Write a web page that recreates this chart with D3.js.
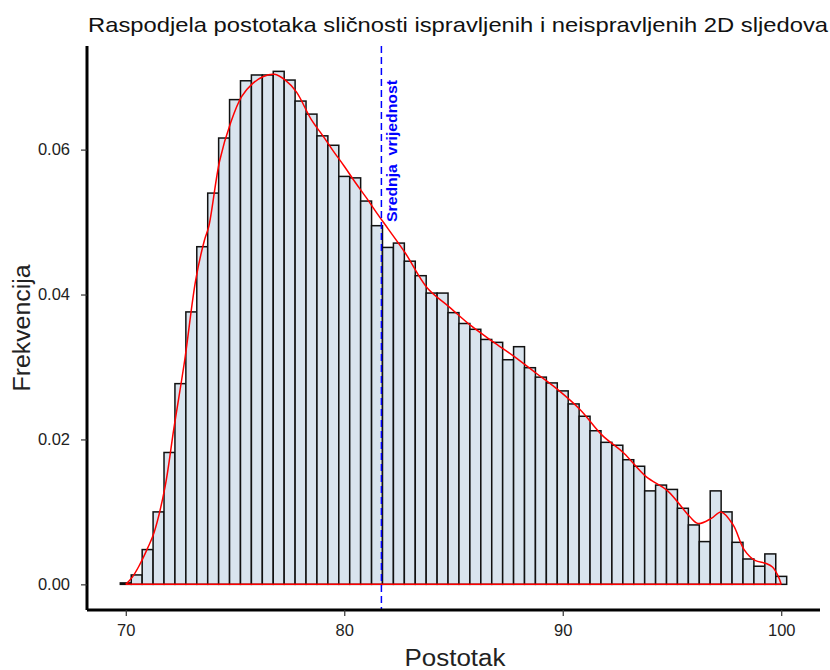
<!DOCTYPE html>
<html>
<head>
<meta charset="utf-8">
<script src="https://cdn.jsdelivr.net/npm/d3@7"></script>
<style>
body{margin:0;background:#fff;}
text{font-family:"Liberation Sans",Arial,sans-serif;}
</style>
</head>
<body>
<script>
// sredine binova (sirina 0.5)
var binMid = [];
for (var b = 0; b <= 60; b++) binMid.push(70 + b*0.5);
// visine stupaca ocitane sa slike
var binFreq = [0.0002,0.0013,0.0048,0.0100,0.0182,0.0277,0.0376,0.0466,0.0540,0.0616,
  0.0669,0.0695,0.0703,0.0703,0.0708,0.0696,0.0667,0.0649,0.0619,0.0606,
  0.0563,0.0561,0.0529,0.0495,0.0465,0.0471,0.0446,0.0426,0.0402,0.0402,
  0.0375,0.0360,0.0352,0.0338,0.0334,0.0310,0.0328,0.0299,0.0286,0.0278,
  0.0267,0.0249,0.0232,0.0212,0.0196,0.0192,0.0172,0.0163,0.0129,0.0137,
  0.0131,0.0105,0.0082,0.0059,0.0129,0.0100,0.0058,0.0035,0.0025,0.0042,0.0011];
// krivulja gustoce (ocitano)
var densX = [70.0,70.3,70.6,71.0,71.3,71.8,72.2,72.7,73.2,73.6,73.8,74.3,74.8,75.3,75.8,76.3,76.8,77.3,77.8,
  78.5,79.0,79.5,80.0,80.5,81.0,81.5,82.0,82.8,83.8,84.8,85.8,86.8,87.8,88.8,89.8,
  90.8,91.8,92.8,93.8,94.8,95.8,96.2,96.8,97.25,97.8,98.3,98.8,99.3,99.6,99.85,100.0];
var densY = [0.0000,0.0010,0.0025,0.0050,0.0072,0.0135,0.0215,0.0310,0.0420,0.0475,0.0494,0.0585,0.0637,0.0673,0.0691,0.0701,0.0704,0.0696,0.0680,
  0.0641,0.0620,0.0598,0.0577,0.0555,0.0534,0.0512,0.0491,0.0457,0.0409,0.0383,0.0357,0.0335,0.0314,0.0291,0.0268,
  0.0241,0.0206,0.0181,0.0149,0.0129,0.0094,0.0084,0.0091,0.0100,0.0082,0.0048,0.0033,0.0029,0.0024,0.0012,0.0000];
var meanVal = 81.7;
var xTicks = [70,80,90,100];
var yTicks = [0,0.02,0.04,0.06];

var W = 830, H = 670;
var margin = {left:87, right:10, top:46, bottom:60};
var svg = d3.select("body").append("svg").attr("width",W).attr("height",H);

var x = d3.scaleLinear().domain([68.225,101.775]).range([margin.left, W-margin.right]);
var y = d3.scaleLinear().domain([-0.00354,0.0743]).range([H-margin.bottom, margin.top]);
var bw = 0.5;

// stupci
svg.append("g").selectAll("rect")
  .data(binFreq)
  .enter().append("rect")
    .attr("x", function(d,i){ return x(binMid[i]-bw/2); })
    .attr("width", function(d,i){ return x(binMid[i]+bw/2) - x(binMid[i]-bw/2); })
    .attr("y", function(d){ return y(d); })
    .attr("height", function(d){ return y(0) - y(d); })
    .attr("fill","#d9e4ee")
    .attr("stroke","#111")
    .attr("stroke-width",1.5);

// gustoca
var pts = densX.map(function(v,i){ return [v, densY[i]]; });
var line = d3.line().x(function(d){ return x(d[0]); }).y(function(d){ return y(d[1]); })
  .curve(d3.curveCatmullRom);
svg.append("path")
  .attr("d", line(pts))
  .attr("fill","none").attr("stroke","#ff0000").attr("stroke-width",1.5);
svg.append("line")
  .attr("x1", x(densX[0])).attr("x2", x(densX[densX.length-1]))
  .attr("y1", y(0)).attr("y2", y(0))
  .attr("stroke","#ff0000").attr("stroke-width",1.5);

// srednja vrijednost
svg.append("line")
  .attr("x1", x(meanVal)).attr("x2", x(meanVal))
  .attr("y1", margin.top).attr("y2", H-margin.bottom)
  .attr("stroke","#0000ff").attr("stroke-width",1.5)
  .attr("stroke-dasharray","7,4");
svg.append("text")
  .attr("transform","translate("+(x(meanVal)+16)+",222) rotate(-90)")
  .attr("fill","#0000ff").attr("font-size","14px").attr("font-weight","bold")
  .attr("textLength",142).attr("lengthAdjust","spacingAndGlyphs")
  .attr("xml:space","preserve")
  .text("Srednja  vrijednost");

// osi
var xAxis = d3.axisBottom(x).tickValues(xTicks).tickSize(6).tickPadding(8);
var yAxis = d3.axisLeft(y).tickValues(yTicks).tickSize(6).tickPadding(11).tickFormat(d3.format(".2f"));

var gx = svg.append("g").attr("transform","translate(0,"+(H-margin.bottom)+")").call(xAxis);
var gy = svg.append("g").attr("transform","translate("+margin.left+",0)").call(yAxis);
[gx,gy].forEach(function(g){
  g.select(".domain").attr("stroke","#000").attr("stroke-width",3);
  g.selectAll(".tick line").attr("stroke","#333").attr("stroke-width",1.2);
  g.selectAll(".tick text").attr("fill","#222").attr("font-size","16.5px")
    .style("font-family","Liberation Sans, Arial, sans-serif");
});
gx.select(".domain").attr("d","M"+margin.left+",0H"+(W-margin.right));
gy.select(".domain").attr("d","M0,"+margin.top+"V"+(H-margin.bottom));

svg.append("text")
  .attr("x", 455).attr("y", 666).attr("text-anchor","middle")
  .attr("font-size","23px").attr("fill","#222")
  .attr("textLength",101).attr("lengthAdjust","spacingAndGlyphs")
  .text("Postotak");
svg.append("text")
  .attr("transform","translate(30,328) rotate(-90)").attr("text-anchor","middle")
  .attr("font-size","23px").attr("fill","#222")
  .attr("textLength",127).attr("lengthAdjust","spacingAndGlyphs")
  .text("Frekvencija");
svg.append("text")
  .attr("x", 88).attr("y", 32)
  .attr("font-size","21px").attr("fill","#111")
  .attr("textLength",740).attr("lengthAdjust","spacingAndGlyphs")
  .text("Raspodjela postotaka sličnosti ispravljenih i neispravljenih 2D sljedova");
</script>
</body>
</html>
